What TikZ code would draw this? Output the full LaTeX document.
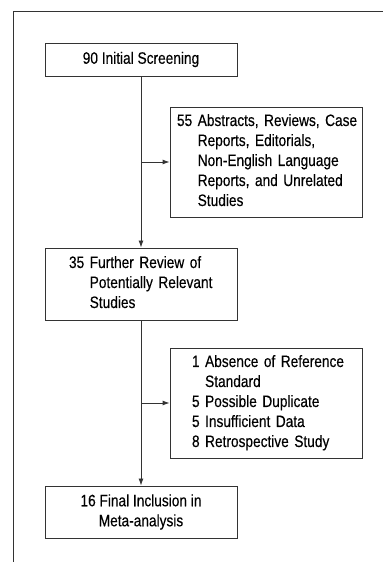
\documentclass[tikz,border=0pt]{standalone}
\usepackage{fontspec}
\setmainfont{Liberation Sans}[FakeStretch=0.83,FakeBold=0.3]
\usetikzlibrary{arrows.meta}
\begin{document}
\begin{tikzpicture}[x=1pt,y=1pt,
  every node/.style={font=\fontsize{16.5}{20}\selectfont},
  box/.style={draw=black!80, line width=0.9pt, minimum width=192pt, inner ysep=0pt},
  arr/.style={draw=black!80, line width=0.9pt, -{Latex[length=7pt,width=5pt]}},
  ln/.style={draw=black!80, line width=0.9pt}]
\useasboundingbox (0,0) rectangle (383,562);
\draw[ln] (13,0) -- (13,551) -- (383,551);
\node[box, minimum height=33pt] (b1) at (141,502.5) {90 Initial Screening};
\node[box, minimum height=110pt, inner xsep=7pt, text width=178pt, align=left] (b2) at (266,400)
  {\begin{tabular}{@{}l@{ }l@{}}55 & Abstracts, Reviews, Case\\ & Reports, Editorials,\\ & Non-English Language\\ & Reports, and Unrelated\\ & Studies\end{tabular}};
\node[box, minimum height=72pt, inner xsep=24pt, text width=144pt, align=left] (b3) at (141,278)
  {\begin{tabular}{@{}l@{ }l@{}}35 & Further Review of\\ & Potentially Relevant\\ & Studies\end{tabular}};
\node[box, minimum height=110pt, inner xsep=22pt, text width=148pt, align=left] (b4) at (266,159)
  {\begin{tabular}{@{}l@{ }l@{}}1 & Absence of Reference\\ & Standard\\ 5 & Possible Duplicate\\ 5 & Insufficient Data\\ 8 & Retrospective Study\end{tabular}};
\node[box, minimum height=52pt, align=center] (b5) at (141,50)
  {16 Final Inclusion in\\Meta-analysis};
\coordinate (j1) at (b1.south |- b2.west);
\coordinate (j2) at (b1.south |- b4.west);
\draw[arr] (b1.south) -- (b1.south |- b3.north);
\draw[arr] (j1) -- (b2.west);
\draw[arr] (b1.south |- b3.south) -- (b5.north);
\draw[arr] (j2) -- (b4.west);
\end{tikzpicture}
\end{document}
